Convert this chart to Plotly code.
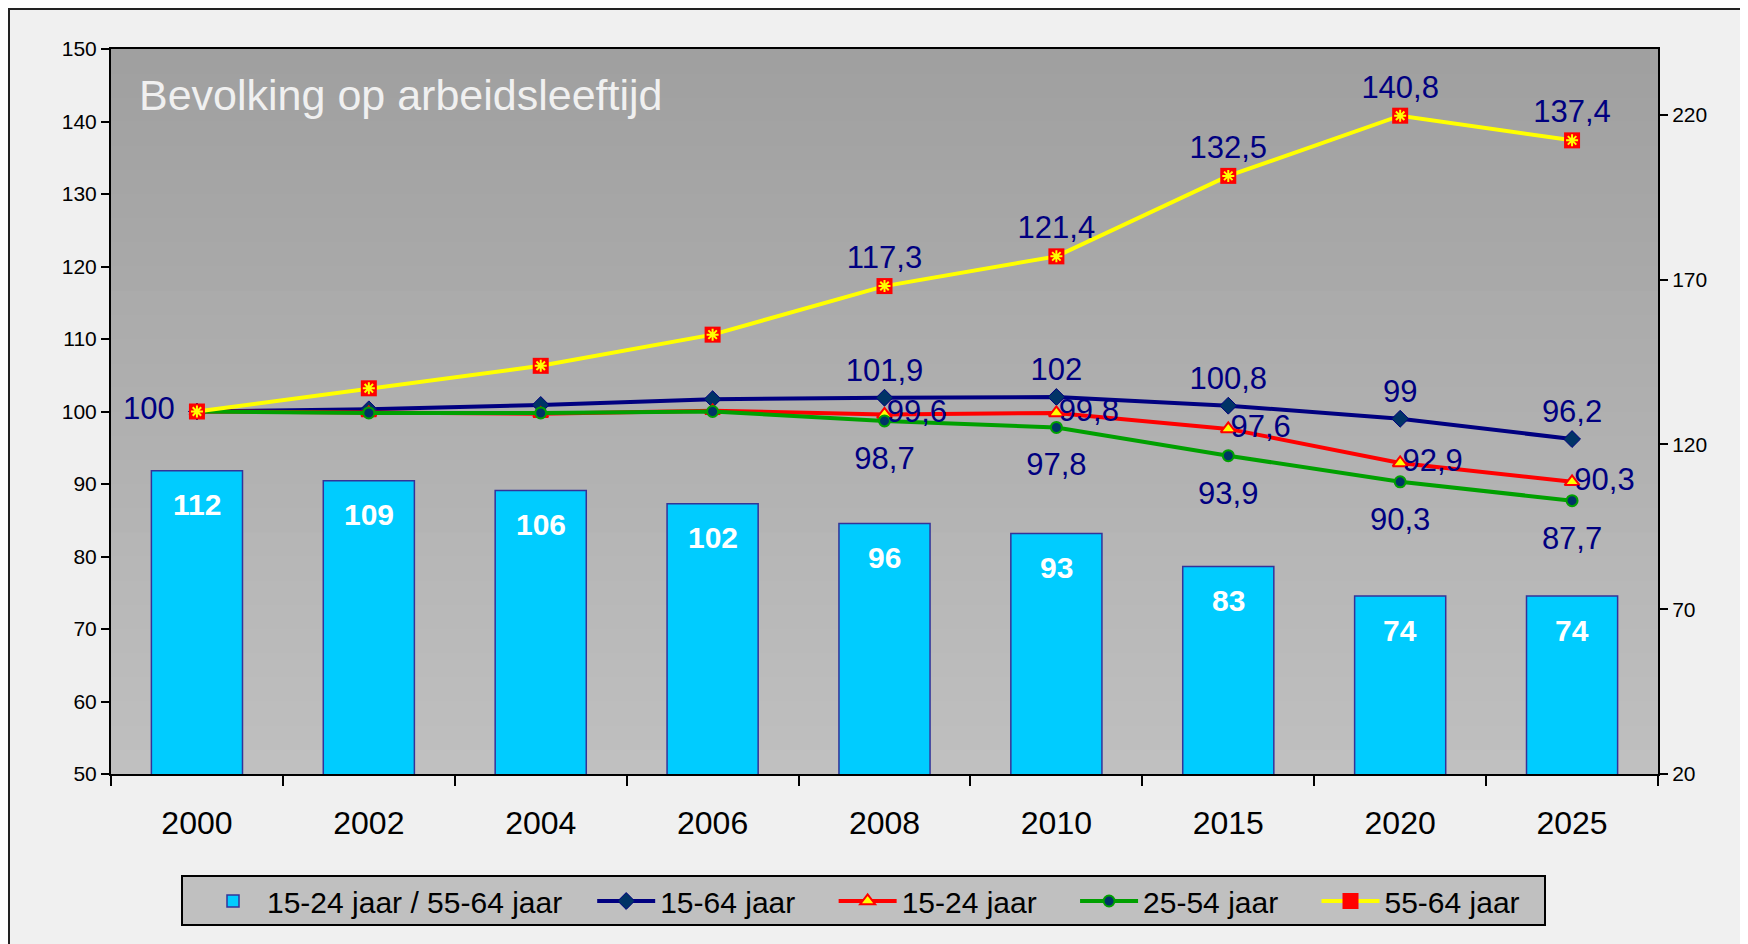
import plotly.graph_objects as go

# data
years = ['2000', '2002', '2004', '2006', '2008', '2010', '2015', '2020', '2025']
ratio_young_old = [112, 109, 106, 102, 96, 93, 83, 74, 74]
age_15_64 = [100, 100.3, 100.9, 101.7, 101.9, 102, 100.8, 99, 96.2]
age_15_24 = [100, 99.8, 99.7, 100.1, 99.6, 99.8, 97.6, 92.9, 90.3]
age_25_54 = [100, 99.8, 99.8, 100.0, 98.7, 97.8, 93.9, 90.3, 87.7]
age_55_64 = [100, 103.2, 106.3, 110.6, 117.3, 121.4, 132.5, 140.8, 137.4]
label_from = 4  # labels shown from 2008 onwards

# the page body adds an 8px margin, so the figure is drawn a bit smaller
OFF = 8
W, H = 1748 - OFF, 944 - OFF
ML, MR, MT, MB = 111 - OFF, 90, 49 - OFF, 170
PW, PH = W - ML - MR, H - MT - MB

LABEL_COLOR = '#000080'
FONT = 'Arial, Liberation Sans, sans-serif'
GAP = '\u00a0' * 4


def fmt(v):
    return ('%g' % v).replace('.', ',')


def labels(values):
    return [fmt(v) if i >= label_from else '' for i, v in enumerate(values)]


def px_x(x):
    return (x - OFF - ML) / PW


def px_y(y):
    return (H - MB - (y - OFF)) / PH


def label_trace(values, text, position, msize):
    # invisible marker only used to push the labels away from the points
    return go.Scatter(x=years, y=values, yaxis='y2', mode='markers+text', showlegend=False,
                      hoverinfo='skip', text=text, textposition=position,
                      marker=dict(size=msize, color='rgba(0,0,0,0)'),
                      textfont=dict(size=31, color=LABEL_COLOR, family=FONT))


fig = go.Figure()

# bars on the right-hand axis
fig.add_trace(go.Bar(
    name='15-24 jaar / 55-64 jaar' + '\u00a0' * 3, x=years, y=ratio_young_old, yaxis='y',
    marker=dict(color='#00ccff', line=dict(color='#333399', width=1.5)),
))

fig.add_trace(go.Scatter(
    name='15-64 jaar' + GAP, x=years, y=age_15_64, yaxis='y2', mode='lines+markers',
    line=dict(color='#000080', width=4),
    marker=dict(symbol='diamond', size=13, color='#003366', line=dict(color='#000080', width=1)),
))
fig.add_trace(go.Scatter(
    name='15-24 jaar' + GAP, x=years, y=age_15_24, yaxis='y2', mode='lines+markers',
    line=dict(color='#ff0000', width=4),
    marker=dict(symbol='triangle-up', size=13, color='#ffff00', line=dict(color='#ff0000', width=2)),
))
fig.add_trace(go.Scatter(
    name='25-54 jaar' + GAP, x=years, y=age_25_54, yaxis='y2', mode='lines+markers',
    line=dict(color='#00a000', width=4),
    marker=dict(symbol='circle', size=11, color='#003366', line=dict(color='#00a000', width=2)),
))
fig.add_trace(go.Scatter(
    name='55-64 jaar', x=years, y=age_55_64, yaxis='y2', mode='lines+markers',
    line=dict(color='#ffff00', width=4),
    marker=dict(symbol='square', size=16, color='#ff0000', line=dict(width=0)),
))
# yellow star on top of the red squares
fig.add_trace(go.Scatter(
    x=years, y=age_55_64, yaxis='y2', mode='markers', showlegend=False, hoverinfo='skip',
    marker=dict(symbol='asterisk', size=10, color='#ffff00', line=dict(color='#ffff00', width=2)),
))

# data labels
first_label = [fmt(age_15_64[0])] + [''] * (len(years) - 1)
fig.add_trace(label_trace(age_15_64, first_label, 'middle left', 34))
fig.add_trace(label_trace(age_15_64, labels(age_15_64), 'top center', 13))
fig.add_trace(label_trace(age_15_24, labels(age_15_24), 'middle right', 2))
fig.add_trace(label_trace(age_25_54, labels(age_25_54), 'bottom center', 38))
fig.add_trace(label_trace(age_55_64, labels(age_55_64), 'top center', 15))

# bar value labels just under the bar top (x given as category index)
for i, v in enumerate(ratio_young_old):
    fig.add_annotation(x=i, y=v, xref='x', yref='y', text='<b>%d</b>' % v, showarrow=False,
                       yanchor='middle', yshift=-34,
                       font=dict(size=30, color='white', family=FONT))

# title inside the plot area
fig.add_annotation(xref='paper', yref='paper', x=px_x(137), y=px_y(95), xanchor='left', yanchor='middle',
                   text='Bevolking op arbeidsleeftijd', showarrow=False,
                   font=dict(size=43, color='#f0f0f0', family=FONT))

# gradient plot background (bands overlap to avoid seams)
shapes = []
n = 30
for i in range(n):
    t = i / (n - 1)
    c = int(0xa0 + (0xc0 - 0xa0) * t)
    y_top = 1 - i / n
    y_bot = max(0, 1 - (i + 1.6) / n)
    shapes.append(dict(type='rect', xref='paper', yref='paper', x0=0, x1=1,
                       y0=y_bot, y1=y_top, layer='below',
                       fillcolor='rgb(%d,%d,%d)' % (c, c, c), line=dict(width=0)))
# outer chart border
shapes.append(dict(type='rect', xref='paper', yref='paper', x0=px_x(9), x1=px_x(1743),
                   y0=px_y(960), y1=px_y(9), layer='below', line=dict(color='#222222', width=2)))
# legend frame
shapes.append(dict(type='rect', xref='paper', yref='paper', x0=px_x(182), x1=px_x(1545),
                   y0=px_y(925), y1=px_y(876), layer='below', fillcolor='#c0c0c0',
                   line=dict(color='black', width=2)))

fig.update_layout(
    width=W, height=H,
    margin=dict(l=ML, r=MR, t=MT, b=MB),
    paper_bgcolor='#f0f0f0', plot_bgcolor='rgba(0,0,0,0)',
    font=dict(family=FONT, color='black'),
    shapes=shapes,
    bargap=0.47,
    xaxis=dict(type='category', range=[-0.5, len(years) - 0.5], showline=True, linecolor='black',
               linewidth=2, mirror=True, ticks='outside', tickson='boundaries', ticklen=10,
               tickwidth=2, tickcolor='black', tickfont=dict(size=32), ticklabelstandoff=20,
               showgrid=False, zeroline=False),
    yaxis=dict(side='right', range=[20, 240], tick0=20, dtick=50, showline=True, linecolor='black',
               linewidth=2, ticks='outside', ticklen=8, tickwidth=2, tickcolor='black',
               tickfont=dict(size=21), showgrid=False, zeroline=False),
    yaxis2=dict(side='left', overlaying='y', range=[50, 150], dtick=10, showline=True,
                linecolor='black', linewidth=2, ticks='outside', ticklen=8, tickwidth=2,
                tickcolor='black', tickfont=dict(size=21), showgrid=False, zeroline=False),
    legend=dict(orientation='h', x=px_x(199), y=px_y(901), xanchor='left', yanchor='middle',
                bgcolor='rgba(0,0,0,0)', borderwidth=0,
                font=dict(size=30, family=FONT), itemwidth=58),
    showlegend=True,
)

fig.write_html('out.html')
